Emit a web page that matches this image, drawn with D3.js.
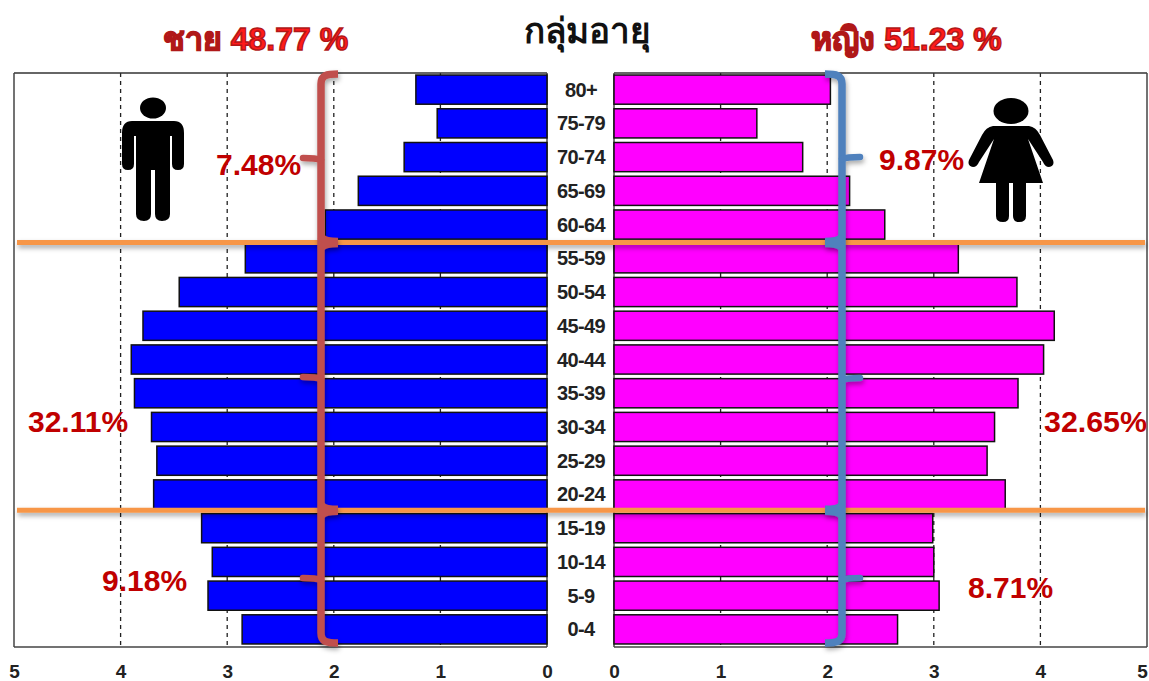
<!DOCTYPE html>
<html><head><meta charset="utf-8">
<script src="https://cdn.jsdelivr.net/npm/d3@7/dist/d3.min.js"></script>
<style>html,body{margin:0;background:#fff}svg{display:block}text{font-family:"Liberation Sans",Arial,sans-serif}</style>
</head><body><svg id="c" width="1149" height="681"></svg>
<script>
const ageGroups=["80+","75-79","70-74","65-69","60-64","55-59","50-54","45-49","40-44","35-39","30-34","25-29","20-24","15-19","10-14","5-9","0-4"];
const maleValues=[1.23,1.03,1.34,1.77,2.08,2.83,3.45,3.79,3.90,3.87,3.71,3.66,3.69,3.24,3.14,3.18,2.86];
const femaleValues=[2.03,1.34,1.77,2.21,2.54,3.23,3.78,4.13,4.03,3.79,3.57,3.50,3.67,2.99,3.00,3.05,2.66];
const axisTicks=[0,1,2,3,4,5];
const dividerAfter=["60-64","20-24"];
const titleAge="กลุ่มอายุ", titleMale="ชาย 48.77 %", titleFemale="หญิง 51.23 %";
const malePct=["7.48%","32.11%","9.18%"];
const femalePct=["9.87%","32.65%","8.71%"];

const svg=d3.select("#c");
const defs=svg.append("defs");
const shadow=defs.append("filter").attr("id","sh").attr("filterUnits","userSpaceOnUse").attr("x",0).attr("y",0).attr("width",1149).attr("height",681);
shadow.append("feDropShadow").attr("dx",1).attr("dy",3).attr("stdDeviation",2.5).attr("flood-color","#000").attr("flood-opacity",.35);
const xL=d3.scaleLinear().domain([0,5]).range([547,14]);
const xR=d3.scaleLinear().domain([0,5]).range([614,1147]);
const y=d3.scaleBand().domain(ageGroups).range([73,646]).paddingInner(.135).paddingOuter(.06);
const plotTop=73,plotBottom=646;

function panel(x,x0,x1){
  svg.append("g").selectAll("line").data(axisTicks.slice(1,5)).join("line")
    .attr("x1",d=>x(d)).attr("x2",d=>x(d)).attr("y1",plotTop).attr("y2",plotBottom)
    .attr("stroke","#222").attr("stroke-width",1.3).attr("stroke-dasharray","4 4");
  const a=svg.append("g").attr("transform",`translate(0,${plotBottom})`)
    .call(d3.axisBottom(x).tickValues(axisTicks).tickSize(0).tickPadding(19).tickFormat(d3.format("d")));
  a.select(".domain").remove();
  a.selectAll("text").attr("font-size",19).attr("font-weight",700).attr("fill","#222")
    .style("font-family","'Liberation Sans',Arial,sans-serif");
  a.selectAll("text").filter(d=>d===5&&x===xR).attr("dx",-5);
  svg.append("line").attr("x1",x0).attr("x2",x1).attr("y1",plotTop).attr("y2",plotTop).attr("stroke","#333").attr("stroke-width",1.6);
  svg.append("line").attr("x1",x0).attr("x2",x1).attr("y1",plotBottom+1).attr("y2",plotBottom+1).attr("stroke","#444").attr("stroke-width",1.6);
}
panel(xL,14,547);panel(xR,614,1147);
[14,1147,614,547].forEach(v=>svg.append("line").attr("x1",v).attr("x2",v).attr("y1",plotTop).attr("y2",plotBottom+1).attr("stroke","#444").attr("stroke-width",1.5));

svg.append("g").selectAll("rect").data(ageGroups).join("rect")
  .attr("x",(d,i)=>xL(maleValues[i])).attr("y",d=>y(d))
  .attr("width",(d,i)=>xL(0)-xL(maleValues[i])).attr("height",y.bandwidth())
  .attr("fill","#0000ff").attr("stroke","#111").attr("stroke-width",1.5);
svg.append("g").selectAll("rect").data(ageGroups).join("rect")
  .attr("x",xR(0)).attr("y",d=>y(d))
  .attr("width",(d,i)=>xR(femaleValues[i])-xR(0)).attr("height",y.bandwidth())
  .attr("fill","#ff00ff").attr("stroke","#111").attr("stroke-width",1.5);

svg.append("g").selectAll("text").data(ageGroups).join("text")
  .attr("x",581).attr("y",d=>y(d)+y.bandwidth()/2+7).attr("text-anchor","middle")
  .attr("font-size",20).attr("font-weight",700).attr("fill","#222").attr("letter-spacing",-.6).attr("textLength",null).text(d=>d);

// dividers
const divY=dividerAfter.map((a,i)=>y(a)+y.bandwidth()+(y.step()-y.bandwidth())/2+(i?-1:1));
svg.append("g").attr("filter","url(#sh)").selectAll("line").data(divY).join("line")
  .attr("x1",17).attr("x2",1145).attr("y1",d=>d).attr("y2",d=>d).attr("stroke","#f79646").attr("stroke-width",5);

// braces
function brace(xs,dir,colour,ys){
  const g=svg.append("g").attr("filter","url(#sh)").attr("fill","none").attr("stroke",colour).attr("stroke-width",7.5);
  const [a,m1,b,m2,c,m3,e]=ys, tip=xs+dir*17;
  g.append("path").attr("d",`M${tip},${a} C${xs+dir*6},${a} ${xs},${a+1} ${xs},${a+10} L${xs},${e-10} C${xs},${e-1} ${xs+dir*6},${e} ${tip},${e}`);
  [b,c].forEach(v=>g.append("path").attr("d",`M${xs},${v-6} C${xs+dir*2},${v-2} ${xs+dir*8},${v-1} ${tip},${v-1} M${xs},${v+6} C${xs+dir*2},${v+2} ${xs+dir*8},${v+1} ${tip},${v+1}`));
  [m1,m2,m3].forEach(v=>g.append("path").attr("stroke-linecap","round").attr("stroke-width",6.5).attr("d",`M${xs},${v+2} C${xs-dir*5},${v} ${xs-dir*10},${v} ${xs-dir*18},${v}`));
}
brace(321,1,"#c0504d",[74,158,divY[0],377,divY[1],578,643]);
brace(842,-1,"#4f81bd",[74,157,divY[0],378,divY[1],578,643]);

// labels
const pctStyle=sel=>sel.attr("font-size",30).attr("font-weight",700).attr("fill","#c00000");
pctStyle(svg.append("text").attr("x",216).attr("y",175).text(malePct[0]));
pctStyle(svg.append("text").attr("x",28).attr("y",432).text(malePct[1]));
pctStyle(svg.append("text").attr("x",102).attr("y",591).text(malePct[2]));
pctStyle(svg.append("text").attr("x",879).attr("y",170).text(femalePct[0]));
pctStyle(svg.append("text").attr("x",1044).attr("y",432).attr("font-size",null).attr("textLength",103).attr("lengthAdjust","spacingAndGlyphs").text(femalePct[1]));
pctStyle(svg.append("text").attr("x",968).attr("y",598).text(femalePct[2]));

svg.append("text").attr("x",587).attr("y",43).attr("text-anchor","middle").attr("font-size",35).attr("font-weight",700).attr("fill","#111")
  .style("font-family","'Noto Sans','Liberation Sans',sans-serif").text(titleAge);
[[255.5,titleMale],[906.5,titleFemale]].forEach(([x,t])=>svg.append("text").attr("x",x).attr("y",50).attr("text-anchor","middle")
  .attr("font-size",32).attr("font-weight",700).attr("fill","#ff1a1a").attr("stroke","#b01818").attr("stroke-width",1.4).text(t));

// icons
const man=svg.append("g").attr("transform","translate(153,0)");
man.append("ellipse").attr("cy",108).attr("rx",13).attr("ry",10.5);
man.append("path").attr("d","M-21,121 H21 Q31,121 31,133 V164 Q31,170 25,170 Q19,170 19,164 V136 H17 V214 Q17,221 9,221 Q2,221 2,214 V170 H-2 V214 Q-2,221 -9,221 Q-17,221 -17,214 V136 H-19 V164 Q-19,170 -25,170 Q-31,170 -31,164 V133 Q-31,121 -21,121Z");
const woman=svg.append("g").attr("transform","translate(1011,0)");
woman.append("ellipse").attr("cy",111).attr("rx",17.5).attr("ry",13);
woman.append("path").attr("d","M-18,126 H18 Q25,127 29,135 L42,160 Q44,166 38,167 Q34,167 32,162 L17,139 L32,183 H15 V216 Q15,222 8,222 Q2,222 2,216 V183 H-2 V216 Q-2,222 -8,222 Q-15,222 -15,216 V183 H-32 L-17,139 L-32,162 Q-34,167 -38,167 Q-44,166 -42,160 L-29,135 Q-25,127 -18,126Z");
</script></body></html>
